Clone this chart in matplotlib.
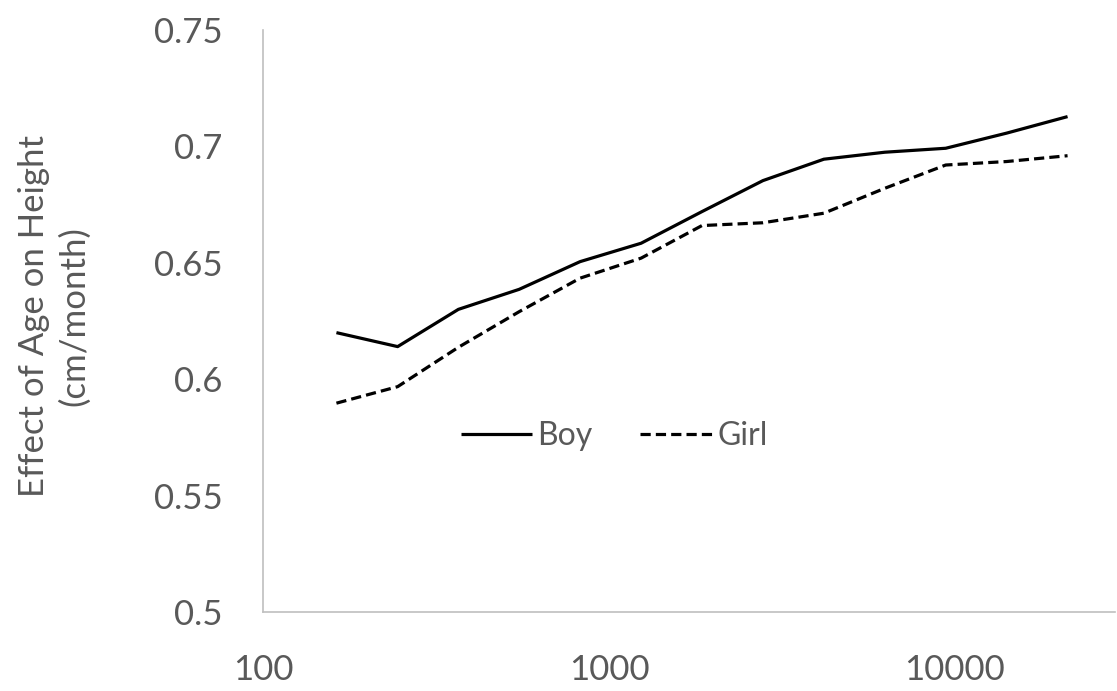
import matplotlib
matplotlib.use("Agg")
import matplotlib.pyplot as plt

x_values = [163, 245, 367, 550, 825, 1238, 1857, 2785, 4178, 6267, 9400, 14100, 21150]
boy = [0.620, 0.614, 0.630, 0.6386, 0.6505, 0.6584, 0.672, 0.6853, 0.6945, 0.6975, 0.6992, 0.7057, 0.7128]
girl = [0.5897, 0.5968, 0.6137, 0.629, 0.6434, 0.652, 0.666, 0.6672, 0.6713, 0.682, 0.692, 0.6935, 0.696]
y_ticks = [0.5, 0.55, 0.6, 0.65, 0.7, 0.75]
y_tick_labels = ["0.5", "0.55", "0.6", "0.65", "0.7", "0.75"]
x_ticks = [100, 1000, 10000]
x_tick_labels = ["100", "1000", "10000"]

plt.rcParams['font.family'] = ['Lato', 'DejaVu Sans']
grey = '#595959'

fig = plt.figure(figsize=(11.17, 6.91), dpi=100)
ax = fig.add_axes([263/1117, 1 - 612/691, (1115 - 263)/1117, (612 - 30)/691])

ax.plot(x_values, boy, color='black', lw=2.3, label='Boy', solid_capstyle='butt')
ax.plot(x_values, girl, color='black', lw=2.3, label='Girl', dashes=(3.2, 1.6))

ax.set_xscale('log')
ax.set_xlim(100, 10 ** (2 + (1115 - 263) / 346))
ax.set_ylim(0.5, 0.75)
ax.set_xticks(x_ticks)
ax.set_xticklabels(x_tick_labels)
ax.minorticks_off()
ax.set_yticks(y_ticks)
ax.set_yticklabels(y_tick_labels)
ax.tick_params(axis='both', length=0, labelsize=25, colors=grey)
ax.tick_params(axis='y', pad=29)
ax.tick_params(axis='x', pad=30)

for s in ['top', 'right']:
    ax.spines[s].set_visible(False)
for s in ['left', 'bottom']:
    ax.spines[s].set_color('#BFBFBF')
    ax.spines[s].set_linewidth(1.2)

ax.set_ylabel("Effect of Age on Height\n(cm/month)", fontsize=25, color=grey, linespacing=1.3)
ax.yaxis.set_label_coords(-0.203, 0.508)

leg = ax.legend(loc='center', bbox_to_anchor=(0.412, 0.302), ncol=2, frameon=False,
                fontsize=23, handlelength=2.25, handletextpad=0.15, columnspacing=1.5)
for t in leg.get_texts():
    t.set_color(grey)

fig.savefig("out.png", dpi=100)
